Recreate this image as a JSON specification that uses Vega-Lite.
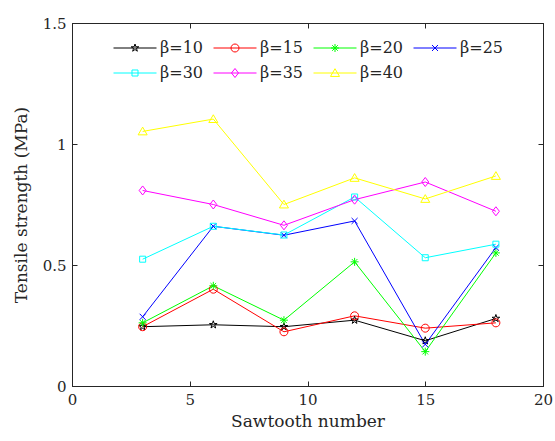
{
  "$schema": "https://vega.github.io/schema/vega-lite/v6.json",
  "width": 471,
  "height": 363,
  "autosize": "none",
  "padding": {"left": 72, "top": 23, "right": 12, "bottom": 55},
  "background": "white",
  "config": {
    "font": "DejaVu Serif",
    "view": {"stroke": "#262626", "strokeWidth": 1},
    "axis": {
      "domainColor": "#262626",
      "tickColor": "#262626",
      "labelColor": "#262626",
      "titleColor": "#262626",
      "labelFont": "DejaVu Serif",
      "titleFont": "DejaVu Serif",
      "labelFontSize": 15,
      "titleFontSize": 17,
      "titleFontWeight": "normal",
      "grid": false,
      "tickSize": -5,
      "labelPadding": 11,
      "labelFlush": false,
      "format": "~g"
    },
    "legend": {
      "labelFont": "DejaVu Serif"
    }
  },
  "data": {
    "values": [
      {"x": 3, "y": 0.245, "beta": "β=10"},
      {"x": 6, "y": 0.253, "beta": "β=10"},
      {"x": 9, "y": 0.245, "beta": "β=10"},
      {"x": 12, "y": 0.272, "beta": "β=10"},
      {"x": 15, "y": 0.187, "beta": "β=10"},
      {"x": 18, "y": 0.279, "beta": "β=10"},
      {"x": 3, "y": 0.245, "beta": "β=15"},
      {"x": 6, "y": 0.400, "beta": "β=15"},
      {"x": 9, "y": 0.224, "beta": "β=15"},
      {"x": 12, "y": 0.290, "beta": "β=15"},
      {"x": 15, "y": 0.239, "beta": "β=15"},
      {"x": 18, "y": 0.261, "beta": "β=15"},
      {"x": 3, "y": 0.261, "beta": "β=20"},
      {"x": 6, "y": 0.414, "beta": "β=20"},
      {"x": 9, "y": 0.272, "beta": "β=20"},
      {"x": 12, "y": 0.513, "beta": "β=20"},
      {"x": 15, "y": 0.142, "beta": "β=20"},
      {"x": 18, "y": 0.550, "beta": "β=20"},
      {"x": 3, "y": 0.286, "beta": "β=25"},
      {"x": 6, "y": 0.660, "beta": "β=25"},
      {"x": 9, "y": 0.623, "beta": "β=25"},
      {"x": 12, "y": 0.682, "beta": "β=25"},
      {"x": 15, "y": 0.172, "beta": "β=25"},
      {"x": 18, "y": 0.572, "beta": "β=25"},
      {"x": 3, "y": 0.524, "beta": "β=30"},
      {"x": 6, "y": 0.660, "beta": "β=30"},
      {"x": 9, "y": 0.624, "beta": "β=30"},
      {"x": 12, "y": 0.781, "beta": "β=30"},
      {"x": 15, "y": 0.530, "beta": "β=30"},
      {"x": 18, "y": 0.586, "beta": "β=30"},
      {"x": 3, "y": 0.808, "beta": "β=35"},
      {"x": 6, "y": 0.750, "beta": "β=35"},
      {"x": 9, "y": 0.664, "beta": "β=35"},
      {"x": 12, "y": 0.770, "beta": "β=35"},
      {"x": 15, "y": 0.843, "beta": "β=35"},
      {"x": 18, "y": 0.722, "beta": "β=35"},
      {"x": 3, "y": 1.052, "beta": "β=40"},
      {"x": 6, "y": 1.103, "beta": "β=40"},
      {"x": 9, "y": 0.750, "beta": "β=40"},
      {"x": 12, "y": 0.860, "beta": "β=40"},
      {"x": 15, "y": 0.773, "beta": "β=40"},
      {"x": 18, "y": 0.868, "beta": "β=40"}
    ]
  },
  "layer": [
    {
      "mark": {"type": "line", "strokeWidth": 1},
      "encoding": {
        "x": {"field": "x", "type": "quantitative", "scale": {"domain": [0, 20], "nice": false},
              "axis": {"orient": "bottom", "values": [0, 5, 10, 15, 20], "title": "Sawtooth number", "titlePadding": 6}},
        "y": {"field": "y", "type": "quantitative", "scale": {"domain": [0, 1.5], "nice": false},
              "axis": {"orient": "left", "values": [0, 0.5, 1, 1.5], "title": "Tensile strength (MPa)", "titlePadding": 12}},
        "color": {
          "field": "beta", "type": "nominal",
          "scale": {"domain": ["β=10", "β=15", "β=20", "β=25", "β=30", "β=35", "β=40"],
                    "range": ["#000000", "#ff0000", "#00ff00", "#0000ff", "#00ffff", "#ff00ff", "#ffff00"]},
          "legend": {
            "orient": "none", "legendX": 41, "legendY": 14, "columns": 4, "direction": "horizontal", "title": null,
            "symbolType": "stroke", "symbolSize": 1849, "symbolStrokeWidth": 1,
            "clipHeight": 22, "rowPadding": 3, "columnPadding": 9, "labelOffset": 3,
            "labelFontSize": 16, "labelColor": "#262626", "padding": 0
          }
        }
      }
    },
    {
      "mark": {"type": "point", "filled": false, "strokeWidth": 1, "size": 1849, "opacity": 1},
      "encoding": {
        "x": {"field": "x", "type": "quantitative", "axis": {"orient": "top", "values": [0, 5, 10, 15, 20], "labels": false, "title": null}},
        "y": {"field": "y", "type": "quantitative", "axis": {"orient": "right", "values": [0, 0.5, 1, 1.5], "labels": false, "title": null}},
        "stroke": {
          "field": "beta", "type": "nominal",
          "scale": {"range": ["#000000", "#ff0000", "#00ff00", "#0000ff", "#00ffff", "#ff00ff", "#ffff00"]},
          "legend": {
            "orient": "none", "legendX": 41, "legendY": 14, "columns": 4, "direction": "horizontal", "title": null,
            "symbolSize": 1849, "symbolStrokeWidth": 1, "symbolFillColor": "transparent",
            "clipHeight": 22, "rowPadding": 3, "columnPadding": 9, "labelOffset": 3,
            "labelFontSize": 16, "labelColor": "transparent", "padding": 0
          }
        },
        "shape": {
          "field": "beta", "type": "nominal",
          "scale": {"range": [
                      "M0,-0.186L0.042,-0.057L0.177,-0.057L0.068,0.022L0.109,0.15L0,0.071L-0.109,0.15L-0.068,0.022L-0.177,-0.057L-0.042,-0.057Z",
                      "M-0.186,0A0.186,0.186,0,1,1,0.186,0A0.186,0.186,0,1,1,-0.186,0Z",
                      "M-0.186,0H0.186M0,-0.186V0.186M-0.13,-0.13L0.13,0.13M-0.13,0.13L0.13,-0.13",
                      "M-0.14,-0.14L0.14,0.14M-0.14,0.14L0.14,-0.14",
                      "M-0.14,-0.14H0.14V0.14H-0.14Z",
                      "M0,-0.21L0.163,0L0,0.21L-0.163,0Z",
                      "M0,-0.2L0.21,0.16L-0.21,0.16Z"
                    ]},
          "legend": {
            "orient": "none", "legendX": 41, "legendY": 14, "columns": 4, "direction": "horizontal", "title": null,
            "symbolSize": 1849, "symbolStrokeWidth": 1, "symbolFillColor": "transparent",
            "clipHeight": 22, "rowPadding": 3, "columnPadding": 9, "labelOffset": 3,
            "labelFontSize": 16, "labelColor": "transparent", "padding": 0
          }
        }
      }
    }
  ],
  "resolve": {"axis": {"x": "independent", "y": "independent"}}
}
